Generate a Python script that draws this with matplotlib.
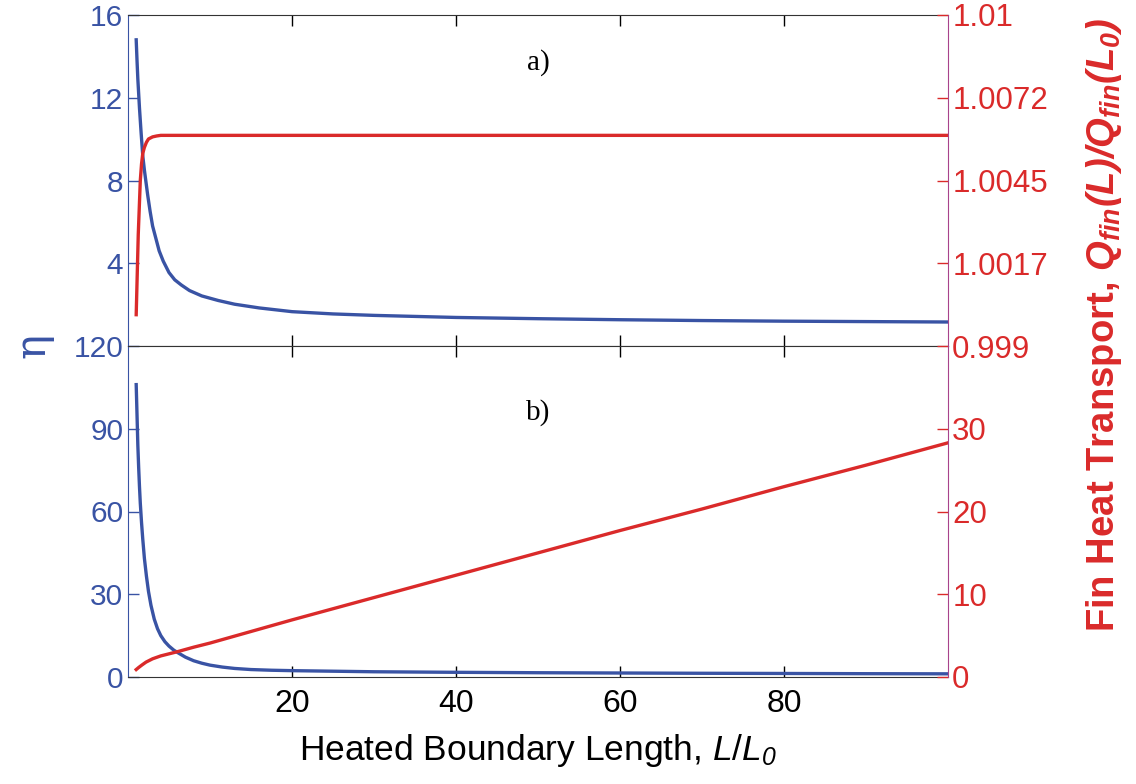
import matplotlib
matplotlib.use('Agg')
import matplotlib.pyplot as plt
import numpy as np

plt.rcParams['font.family'] = ['Liberation Sans', 'DejaVu Sans']
plt.rcParams['mathtext.fontset'] = 'custom'
plt.rcParams['mathtext.rm'] = 'Liberation Sans'
plt.rcParams['mathtext.it'] = 'Liberation Sans:italic'
plt.rcParams['mathtext.bf'] = 'Liberation Sans:bold'
plt.rcParams['mathtext.bfit'] = 'Liberation Sans:italic:bold'
# kursiva siffror (mathtext gör annars siffror raka)
plt.rcParams['mathtext.sf'] = 'Liberation Sans:italic'
plt.rcParams['mathtext.tt'] = 'Liberation Sans:italic:bold'

# Farger
BLUE = '#3953A4'
RED = '#DA2A2A'
RSPINE = '#A8438C'

# a) panel - eta (vänster) och Q/Q0 (höger)
x_eta_a = [1, 1.1, 1.2, 1.3, 1.4, 1.5, 1.6, 1.8, 2, 2.2, 2.4, 2.7, 3, 3.4, 3.8, 4.3, 5, 5.7,
           6.5, 7.5, 9, 11, 13, 16, 20, 25, 30, 40, 50, 60, 70, 80, 90, 100]
eta_a = [14.8, 13.8, 12.9, 12.2, 11.5, 10.9, 10.3, 9.2, 8.5, 7.9, 7.3, 6.5, 5.8, 5.2, 4.6, 4.1,
         3.55, 3.2, 2.95, 2.68, 2.42, 2.2, 2.02, 1.84, 1.66, 1.55, 1.48, 1.38, 1.32, 1.27,
         1.23, 1.2, 1.18, 1.16]
x_q_a = [1, 1.25, 1.5, 1.65, 1.8, 2, 2.25, 2.5, 3, 3.5, 4, 5, 10, 20, 40, 60, 80, 100]
q_a = [1.00004, 1.0027, 1.0045, 1.00505, 1.0054, 1.0056, 1.00577, 1.00588, 1.00595, 1.00598,
       1.006, 1.006, 1.006, 1.006, 1.006, 1.006, 1.006, 1.006]

# b) panel
x_eta_b = [1, 1.1, 1.2, 1.3, 1.4, 1.5, 1.65, 1.8, 2, 2.25, 2.5, 2.8, 3.2, 3.6, 4, 4.5, 5, 5.6,
           6.2, 7, 8, 9, 10, 11.5, 13, 15, 17.5, 20, 25, 30, 40, 50, 60, 70, 80, 90, 100]
eta_b = [106, 95, 84, 76, 69, 63, 56, 50, 43, 36.5, 31, 26, 21, 17.5, 15, 12.8, 11.2, 9.7,
         8.6, 7.2, 5.9, 5.0, 4.3, 3.6, 3.1, 2.7, 2.45, 2.3, 2.1, 1.9, 1.7, 1.55, 1.45, 1.35,
         1.28, 1.2, 1.15]
x_q_b = [1, 1.3, 1.7, 2.2, 3, 4, 5, 6, 8, 10, 15, 20, 30, 40, 50, 60, 70, 80, 90, 100]
q_b = [0.9, 1.15, 1.45, 1.8, 2.2, 2.55, 2.8, 3.05, 3.6, 4.1, 5.5, 6.9, 9.6, 12.3, 15.0, 17.7,
       20.3, 23.0, 25.6, 28.3]

x_ticks = [20, 40, 60, 80]
eta_ticks_a = [4, 8, 12, 16]
eta_ticks_b = [0, 30, 60, 90, 120]
q_ticks_a = [0.999, 1.00175, 1.0045, 1.00725, 1.01]
q_labels_a = ['0.999', '1.0017', '1.0045', '1.0072', '1.01']
q_ticks_b = [0, 10, 20, 30]

fig = plt.figure(figsize=(11.36, 7.84), dpi=100)
left, right = 128 / 1136, 948 / 1136
y_top, y_mid, y_bot = 1 - 15 / 784, 1 - 346 / 784, 1 - 677 / 784

ax_a = fig.add_axes([left, y_mid, right - left, y_top - y_mid])
ax_b = fig.add_axes([left, y_bot, right - left, y_mid - y_bot])
ax_a2 = ax_a.twinx()
ax_b2 = ax_b.twinx()

TICKSIZE = 21.5

for ax, ax2 in [(ax_a, ax_a2), (ax_b, ax_b2)]:
    ax.set_xlim(0, 100)
    ax.set_xticks(x_ticks)
    ax.tick_params(axis='x', direction='in', length=8, width=1, top=True, colors='black',
                   labelsize=23, pad=9)
    ax.tick_params(axis='y', direction='in', length=8, width=1, colors=BLUE, labelsize=TICKSIZE)
    ax2.tick_params(axis='y', direction='in', length=8, width=1, colors=RED, labelsize=22.5,
                    pad=3)
    for s in ['top', 'bottom']:
        ax.spines[s].set_color('#333333')
        ax2.spines[s].set_visible(False)
    ax.spines['left'].set_color(BLUE)
    ax2.spines['right'].set_color(RSPINE)
    ax.spines['right'].set_visible(False)
    ax2.spines['left'].set_visible(False)

# a)
ax_a.plot(x_eta_a, eta_a, color=BLUE, lw=2.4, zorder=3)
ax_a2.plot(x_q_a, q_a, color=RED, lw=2.4)
ax_a.set_ylim(0, 16)
ax_a.set_yticks(eta_ticks_a)
ax_a2.set_ylim(0.999, 1.01)
ax_a2.set_yticks(q_ticks_a)
ax_a2.set_yticklabels(q_labels_a)
ax_a.tick_params(axis='x', labelbottom=False)
ax_a.text(0.5, 0.855, 'a)', transform=ax_a.transAxes, ha='center', va='center',
          fontsize=21, family='Liberation Serif')

# b)
ax_b.plot(x_eta_b, eta_b, color=BLUE, lw=2.4, zorder=3)
ax_b2.plot(x_q_b, q_b, color=RED, lw=2.4)
ax_b.set_ylim(0, 120)
ax_b.set_yticks(eta_ticks_b)
ax_b2.set_ylim(0, 40)
ax_b2.set_yticks(q_ticks_b)
ax_b.text(0.5, 0.80, 'b)', transform=ax_b.transAxes, ha='center', va='center',
          fontsize=21, family='Liberation Serif')

ax_b.set_xlabel(r'Heated Boundary Length, $L/L_{\mathsf{0}}$', fontsize=25.5, labelpad=9)

fig.text(32 / 1136, 1 - 345 / 784, 'η', rotation=90, color=BLUE, fontsize=30,
         ha='center', va='center', family='DejaVu Serif')
fig.text(1104 / 1136, 1 - 325 / 784,
         r'Fin Heat Transport, $\mathbfit{Q_{fin}(L)/Q_{fin}(L}_{\mathtt{0}}\mathbfit{)}$',
         rotation=90, color=RED, fontsize=27.5, fontweight='bold', ha='center', va='center')

fig.savefig('out.png', dpi=100)
